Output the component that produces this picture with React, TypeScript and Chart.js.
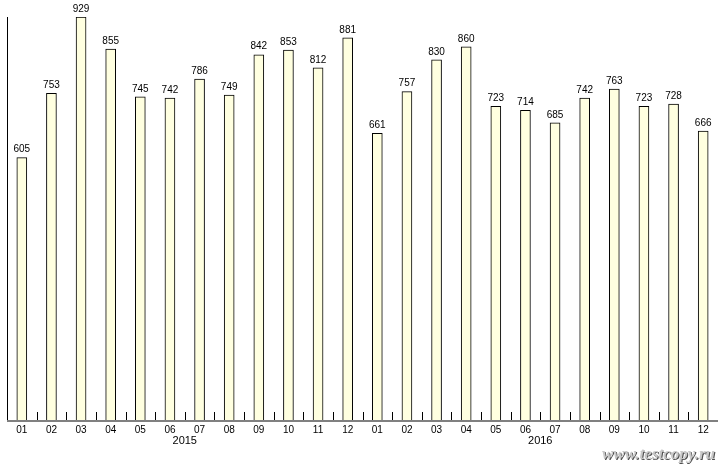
import React, { useEffect, useRef } from "react";
import { Chart, registerables } from "chart.js";

Chart.register(...registerables);

const months = ["01","02","03","04","05","06","07","08","09","10","11","12","01","02","03","04","05","06","07","08","09","10","11","12"];
const years = ["2015", "2016"];
const values = [605,753,929,855,745,742,786,749,842,853,812,881,661,757,830,860,723,714,685,742,763,723,728,666];
const watermark = "www.testcopy.ru";

const FONT = "'Liberation Sans', Arial, sans-serif";

const extras = {
  id: "extras",
  afterDatasetsDraw(chart: any) {
    const ctx = chart.ctx;
    const area = chart.chartArea;
    const xs = chart.scales.x;
    const meta = chart.getDatasetMeta(0);
    ctx.save();
    // value labels
    ctx.fillStyle = "#000";
    ctx.font = "10px " + FONT;
    ctx.textAlign = "center";
    ctx.textBaseline = "bottom";
    meta.data.forEach((el: any, i: number) => {
      ctx.fillText(String(values[i]), el.x, el.y - 3);
    });
    // y axis line
    ctx.strokeStyle = "#000";
    ctx.lineWidth = 1;
    ctx.beginPath();
    ctx.moveTo(Math.round(area.left) + 0.5, area.top);
    ctx.lineTo(Math.round(area.left) + 0.5, area.bottom);
    ctx.stroke();
    // category boundary ticks
    const n = months.length;
    const w = (xs.getPixelForValue(n - 1) - xs.getPixelForValue(0)) / (n - 1);
    ctx.beginPath();
    for (let i = 1; i < n; i++) {
      const x = Math.round(xs.getPixelForValue(i) - w / 2) + 0.5;
      ctx.moveTo(x, area.bottom);
      ctx.lineTo(x, area.bottom - 8);
    }
    ctx.stroke();
    // x axis line
    ctx.strokeStyle = "#808080";
    ctx.lineWidth = 2;
    ctx.beginPath();
    ctx.moveTo(area.left, area.bottom + 1);
    ctx.lineTo(area.right, area.bottom + 1);
    ctx.stroke();
    // year labels
    ctx.fillStyle = "#000";
    ctx.font = "11px " + FONT;
    ctx.textBaseline = "middle";
    years.forEach((y, k) => {
      const a = xs.getPixelForValue(k * 12);
      const b = xs.getPixelForValue(k * 12 + 11);
      ctx.fillText(y, (a + b) / 2, area.bottom + 21);
    });
    // watermark
    ctx.font = "italic bold 17px 'Liberation Serif', serif";
    ctx.textAlign = "right";
    ctx.fillStyle = "#505050";
    ctx.fillText(watermark, 716, 456);
    ctx.fillStyle = "#c8c8c8";
    ctx.fillText(watermark, 715, 455);
    ctx.restore();
  },
};

export default function App() {
  const ref = useRef<HTMLCanvasElement>(null);
  useEffect(() => {
    const chart = new Chart(ref.current!, {
      type: "bar",
      data: {
        labels: months,
        datasets: [
          {
            data: values,
            backgroundColor: "#ffffe0",
            borderColor: "#000",
            borderWidth: 1,
            barThickness: 10,
          },
        ],
      },
      options: {
        animation: false,
        responsive: false,
        maintainAspectRatio: false,
        layout: { padding: { left: 7, right: 7, top: 17, bottom: 29 } },
        plugins: { legend: { display: false }, tooltip: { enabled: false } },
        scales: {
          x: {
            grid: { display: false, drawTicks: false },
            border: { display: false },
            ticks: { color: "#000", font: { size: 10, family: FONT }, padding: 4, maxRotation: 0, autoSkip: false },
          },
          y: { display: false, min: 0, max: 929 },
        },
      },
      plugins: [extras],
    });
    return () => chart.destroy();
  }, []);
  return (
    <div style={{ position: "absolute", left: 0, top: 0, width: 725, height: 469, background: "#fff" }}>
      <canvas ref={ref} width={725} height={469} style={{ width: 725, height: 469 }} />
    </div>
  );
}
